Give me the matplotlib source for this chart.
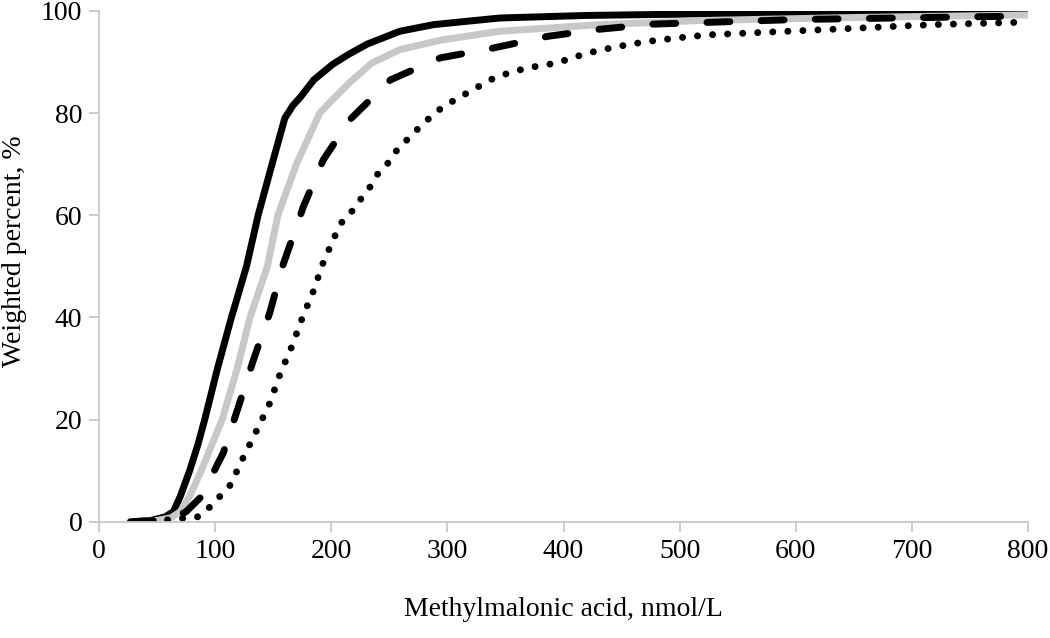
import matplotlib
matplotlib.use("Agg")
import matplotlib.pyplot as plt

plt.rcParams['font.family'] = ['Liberation Serif', 'DejaVu Serif']

# Кумулятивные кривые
solid_x = [27, 45, 57, 64, 70, 78, 85, 91, 102, 114, 127, 137, 149, 160, 167, 173,
           185, 201, 215, 231, 259, 288, 345, 420, 517, 650, 800]
solid_y = [0, 0.3, 1.0, 2, 5, 10, 15, 20, 30, 40, 50, 60, 70, 79, 81.5, 83,
           86.5, 89.5, 91.5, 93.5, 96, 97.3, 98.6, 99.1, 99.4, 99.6, 99.8]

gray_x = [27, 50, 62, 70, 78, 88, 97, 106, 119, 130, 145, 154, 170, 190, 201, 216,
          235, 259, 295, 345, 431, 517, 650, 800]
gray_y = [0, 0.3, 0.8, 2, 5, 10, 15, 20, 30, 40, 50, 60, 70, 80, 82.6, 86,
          89.8, 92.4, 94.3, 96, 97.3, 98.1, 98.7, 99.2]

dash_x = [27, 50, 65, 75, 87, 97, 107, 120, 133, 147, 158, 176, 193, 216, 251, 294,
          339, 386, 431, 477, 600, 800]
dash_y = [0, 0.3, 0.8, 2, 4.7, 9, 13.5, 22.5, 31.7, 40.9, 50, 61.7, 70.8, 78.7, 86.5, 90.8,
          92.7, 95, 96.4, 97.4, 98.3, 99]

dot_x = [59, 85, 96, 113, 124, 136, 147, 156, 166, 175, 185, 193, 204, 210, 220, 227,
         235, 241, 251, 258, 268, 277, 287, 296, 319, 342, 368, 394, 420, 446, 472,
         498, 524, 632, 718, 800]
dot_y = [0.4, 1, 3, 7.2, 12.5, 18, 23.2, 29, 34.3, 39.9, 45.4, 50.7, 56.4, 59, 61.3, 63.7,
         66, 68.5, 70.7, 73.3, 75.3, 77.5, 79.5, 81.2, 84.2, 87.1, 88.8, 89.8, 91.7, 93, 94,
         94.7, 95.3, 96.4, 97.3, 97.8]

x_ticks = [0, 100, 200, 300, 400, 500, 600, 700, 800]
y_ticks = [0, 20, 40, 60, 80, 100]

fig = plt.figure(figsize=(10.5, 6.38), dpi=100)
ax = fig.add_axes([0.0943, 0.182, 0.8848, 0.801])

ax.plot(solid_x, solid_y, color='black', lw=5, solid_capstyle='round', solid_joinstyle='round')
ax.plot(gray_x, gray_y, color='#c8c8c8', lw=5, solid_capstyle='round', solid_joinstyle='round')
ax.plot(dash_x, dash_y, color='black', lw=5,
        linestyle=(0, (3.3, 4.5)), dash_capstyle='round')
ax.plot(dot_x, dot_y, color='black', lw=5,
        linestyle=(0, (0.01, 2.16)), dash_capstyle='round')

ax.set_xlim(0, 800)
ax.set_ylim(0, 100)
ax.set_xticks(x_ticks)
ax.set_yticks(y_ticks)

for side in ['top', 'right']:
    ax.spines[side].set_visible(False)
for side in ['left', 'bottom']:
    ax.spines[side].set_color('#c8c8c8')
    ax.spines[side].set_linewidth(1.3)

ax.tick_params(axis='both', direction='out', length=7, width=1.3,
               color='#c8c8c8', labelsize=20, labelcolor='black', pad=5)

ax.set_xlabel('Methylmalonic acid, nmol/L', fontsize=20, labelpad=24)
ax.set_ylabel('Weighted percent, %', fontsize=20)
ax.yaxis.set_label_coords(-0.078, 0.53)

fig.savefig('out.png', dpi=100)
